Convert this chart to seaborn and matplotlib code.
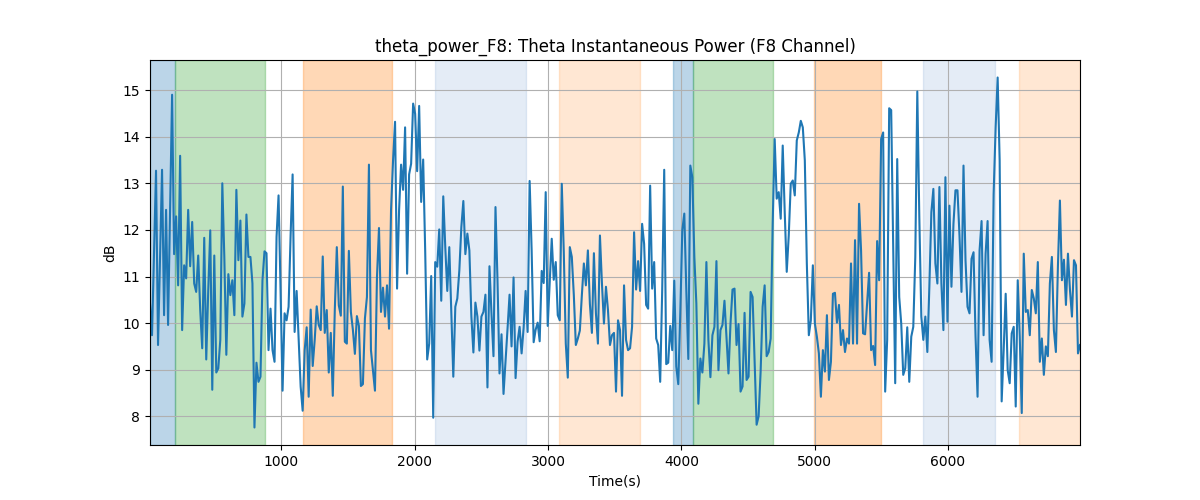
import numpy as np
import matplotlib
matplotlib.use("Agg")
import matplotlib.pyplot as plt
import seaborn as sns

# theta power (dB) in four chunks, left to right
theta_seg1 = [10.42, 9.74, 11.5, 13.27, 9.53, 11.4, 13.29, 10.17, 12.43, 9.96, 12.4, 14.90,
              11.48, 12.29, 10.81, 13.59, 9.85, 11.24, 10.96, 12.43, 11.22, 12.17, 10.85,
              10.67, 11.45, 10.28, 9.46, 11.83, 9.22, 10.71, 11.99, 8.57, 11.45, 8.94, 9.03,
              9.64, 13.0, 11.42, 9.32, 11.05, 10.60, 10.92, 10.17, 12.86, 11.35, 12.20, 10.14,
              10.42, 12.33, 11.42, 11.42, 10.85, 7.76, 9.15, 8.74, 8.85, 10.92, 11.54, 11.50,
              9.42, 10.31, 9.42, 9.17, 11.85, 12.74, 10.71, 8.55, 10.21, 10.06, 10.35, 11.88,
              13.19, 9.81, 10.69, 9.64, 8.64, 8.12, 9.42, 9.91, 8.42, 10.29, 9.08, 9.64, 10.36,
              9.96, 9.85, 11.43, 9.79, 10.28, 8.94, 9.79, 8.44, 10.28, 11.63, 10.38, 10.16,
              12.93, 9.60, 9.56, 11.55, 10.24, 9.86, 9.34, 10.15, 9.94, 8.65, 8.69, 10.10,
              10.56, 13.40, 9.42, 8.99, 8.55, 10.99]
theta_seg2 = [12.04, 10.24, 10.76, 10.14, 10.81, 9.88, 12.42, 13.49, 14.32, 10.74, 12.42, 13.40,
              12.86, 14.20, 11.06, 13.19, 13.42, 14.71, 14.49, 13.26, 14.66, 12.60, 13.51,
              11.56, 9.22, 9.56, 11.01, 7.97, 11.31, 11.21, 12.01, 10.48, 12.72, 11.63, 10.69,
              11.63, 10.21, 8.85, 10.35, 10.53, 11.13, 12.06, 12.62, 11.48, 11.92, 11.56, 10.14,
              9.37, 10.44, 10.14, 9.41, 10.14, 10.24, 10.61, 8.62, 11.22, 10.21, 9.29, 12.49,
              10.92, 8.92, 9.76, 8.48, 9.17, 9.88, 10.61, 9.50, 10.98, 8.82, 9.60, 9.92, 9.35,
              9.89, 10.69, 9.81, 13.05, 11.56, 9.59, 9.86, 10.01, 9.61, 11.12, 10.86, 12.81,
              9.94, 10.85, 11.81, 10.93, 11.31, 10.17, 10.06, 12.99, 11.53, 9.56, 8.83, 11.63,
              11.42, 10.60, 9.53, 9.67, 9.84, 10.60, 11.28, 10.81, 11.56, 10.41, 9.79, 11.50,
              10.21, 9.56, 11.88, 10.85, 9.99, 10.78, 10.28]
theta_seg3 = [9.53, 9.74, 9.79, 8.53, 10.06, 9.85, 8.44, 10.81, 9.64, 9.42, 9.46, 9.92, 11.95,
              10.72, 11.33, 10.69, 12.13, 11.70, 10.39, 10.31, 12.95, 10.74, 11.31, 9.67, 9.53,
              8.74, 10.71, 13.29, 9.12, 9.15, 9.94, 9.42, 10.91, 9.07, 8.69, 10.21, 11.99,
              12.35, 10.71, 9.23, 13.38, 13.13, 11.42, 10.42, 8.27, 9.24, 8.94, 9.56, 11.31,
              9.64, 8.84, 9.74, 9.92, 11.33, 8.99, 9.85, 9.96, 10.48, 9.71, 8.92, 9.99, 10.72,
              10.74, 9.53, 9.98, 8.53, 8.64, 10.22, 8.78, 8.85, 10.67, 10.56, 9.17, 7.82, 8.0,
              8.96, 10.35, 10.81, 9.29, 9.38, 9.67, 12.13, 13.95, 12.67, 12.81, 12.24, 13.81,
              12.38, 11.10, 11.88, 12.99, 13.06, 12.74, 13.92, 14.09, 14.34, 14.20, 13.49,
              11.28, 9.74, 10.06, 11.24, 9.99, 9.71, 9.35, 8.42, 9.42, 8.96, 10.17, 8.78, 9.17,
              10.63, 10.65, 10.01, 10.39]
theta_seg4 = [9.53, 9.85, 9.38, 9.67, 9.56, 11.28, 9.56, 11.78, 9.56, 12.56, 11.56, 9.78, 9.76,
              10.42, 11.08, 9.42, 9.51, 9.10, 11.76, 10.92, 13.95, 14.09, 8.53, 9.64, 14.61,
              14.57, 11.63, 8.71, 13.52, 10.56, 9.99, 8.89, 9.03, 9.91, 8.74, 9.71, 9.92, 11.42,
              14.97, 12.28, 10.14, 9.64, 10.14, 9.38, 10.78, 12.38, 12.88, 11.28, 10.85, 12.92,
              10.85, 9.85, 13.13, 10.03, 12.52, 10.78, 12.13, 12.85, 12.85, 11.88, 10.67, 13.38,
              11.35, 10.35, 10.21, 11.38, 11.52, 9.71, 8.42, 11.56, 12.19, 9.74, 11.49, 12.19,
              9.64, 9.17, 12.77, 14.20, 15.27, 13.49, 8.32, 9.42, 10.63, 8.99, 8.71, 9.78, 9.92,
              8.21, 10.92, 9.71, 8.07, 11.49, 10.24, 10.28, 9.74, 10.71, 10.53, 10.21, 11.31,
              9.17, 9.67, 8.89, 9.50, 9.29, 10.85, 11.42, 9.85, 9.38, 11.21, 12.63, 10.92, 11.36,
              10.39, 11.49, 10.71, 10.14, 11.35, 11.24, 9.35, 9.53]

t_first, t_last = 15, 6990

# shaded segments (seconds)
span_start = [15, 200, 1160, 2152, 3080, 3935, 4088, 4996, 5811, 6531]
span_end = [200, 880, 1833, 2838, 3693, 4088, 4691, 5494, 6349, 6990]
span_kind = ["blue", "green", "orange", "lblue", "lorange",
             "blue", "green", "orange", "lblue", "lorange"]

kind_style = {
    "blue": ("tab:blue", 0.3),
    "green": ("tab:green", 0.3),
    "orange": ("tab:orange", 0.3),
    "lblue": ("#4b80c3", 0.15),
    "lorange": ("tab:orange", 0.18),
}

power = np.array(theta_seg1 + theta_seg2 + theta_seg3 + theta_seg4)
time = np.linspace(t_first, t_last, len(power))

fig, ax = plt.subplots(figsize=(12, 5), dpi=100)

for s, e, k in zip(span_start, span_end, span_kind):
    col, a = kind_style[k]
    ax.axvspan(s, e, color=col, alpha=a)

sns.lineplot(x=time, y=power, ax=ax, color="tab:blue", linewidth=1.5)

ax.set_xlim(time[0], time[-1])
ax.set_title("theta_power_F8: Theta Instantaneous Power (F8 Channel)")
ax.set_xlabel("Time(s)")
ax.set_ylabel("dB")
ax.grid(True)

plt.savefig("out.png")
